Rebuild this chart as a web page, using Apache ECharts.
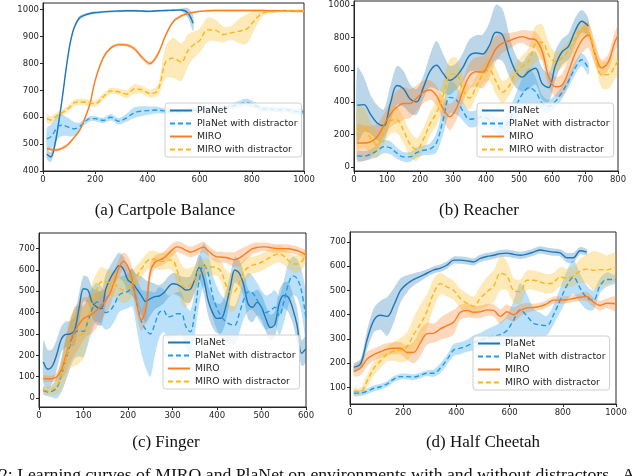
<!DOCTYPE html>
<html>
<head>
<meta charset="utf-8">
<script src="https://cdn.jsdelivr.net/npm/echarts@6/dist/echarts.min.js"></script>
<style>
  html, body { margin: 0; padding: 0; background: #fff; }
  #chart { width: 640px; height: 476px; }
</style>
</head>
<body>
<div id="chart"></div>
<script>
(function () {
  'use strict';

  var NAMES = ['PlaNet', 'PlaNet with distractor', 'MIRO', 'MIRO with distractor'];
  var COLORS = ['#1f77b4', '#1f9bf0', '#fa7d22', '#fdb515'];
  var DASHED = [false, true, false, true];

  // (a) Cartpole Balance
  var xsA = [15, 30, 45, 60, 75, 90, 105, 120, 140, 160, 180, 200, 230, 260, 290, 320, 350, 380, 410, 440, 470, 500, 530, 555, 575,
    600, 630, 660, 690, 720, 750, 780, 810, 840, 870, 900, 930, 960, 1000];
  var planetA = [462, 452, 495, 580, 680, 790, 880, 935, 970, 980, 986, 989, 992, 994, 995, 996, 996, 995, 994, 996, 997, 998, 999, 988, 950,
    null, null, null, null, null, null, null, null, null, null, null, null, null, null];
  var planetASd = [18, 18, 18, 12, 10, 10, 10, 8, 8, 6, 5, 5, 4, 4, 4, 4, 4, 4, 4, 4, 4, 4, 6, 18, 30,
    null, null, null, null, null, null, null, null, null, null, null, null, null, null];
  var planetDistA = [520, 527, 548, 568, 570, 566, 560, 557, 565, 583, 595, 595, 588, 600, 585, 598, 617, 623, 625, 627, 622, 620, 620, 625, 625,
    628, 630, 632, 635, 640, 648, 655, 645, 632, 630, 628, 628, 622, 620];
  var planetDistASd = [40, 45, 45, 45, 40, 35, 32, 25, 15, 12, 10, 10, 10, 12, 12, 15, 20, 18, 15, 12, 10, 10, 10, 10, 10,
    10, 10, 10, 10, 10, 12, 15, 12, 10, 10, 10, 10, 10, 10];
  var miroA = [483, 480, 478, 480, 486, 494, 508, 526, 551, 595, 650, 737, 820, 858, 870, 869, 855, 822, 800, 835, 905, 957, 977, 986, 990,
    994, 996, 997, 997, 997, 997, 997, 997, 997, 996, 996, 996, 995, 995];
  var miroASd = [6, 6, 6, 6, 6, 6, 6, 6, 6, 6, 6, 6, 6, 6, 6, 6, 8, 8, 8, 8, 8, 6, 6, 5, 5,
    4, 4, 4, 4, 4, 4, 4, 4, 4, 4, 4, 4, 4, 4];
  var miroDistA = [595, 590, 600, 610, 618, 627, 640, 654, 657, 656, 653, 650, 675, 698, 695, 686, 705, 702, 688, 700, 805, 820, 805, 848, 868,
    885, 925, 924, 908, 914, 920, 928, 960, 987, 992, 994, 995, 996, 996];
  var miroDistASd = [15, 15, 12, 12, 12, 12, 12, 12, 12, 12, 12, 12, 12, 12, 12, 15, 18, 15, 15, 20, 60, 75, 70, 60, 50,
    45, 45, 40, 30, 25, 45, 55, 35, 12, 6, 5, 5, 5, 5];

  // (b) Reacher
  var xsB = [10, 30, 50, 70, 90, 110, 130, 150, 170, 190, 210, 230, 250, 270, 290, 310, 330, 350, 370, 390,
    410, 430, 450, 470, 490, 510, 530, 550, 570, 590, 610, 630, 650, 670, 690, 710, 730, 750, 770, 790, 800];
  var planetB = [381, 385, 325, 272, 255, 390, 503, 483, 420, 402, 490, 590, 628, 578, 535, 560, 615, 688, 704, 698,
    750, 832, 815, 690, 590, 555, 590, 610, 515, 490, 625, 710, 745, 840, 900, 870, null, null, null, null, null];
  var planetBSd = [235, 170, 120, 110, 100, 110, 120, 110, 90, 80, 70, 100, 150, 120, 90, 80, 90, 100, 110, 120,
    140, 170, 160, 130, 100, 90, 110, 100, 100, 90, 90, 80, 80, 80, 70, 50, null, null, null, null, null];
  var planetDistB = [68, 67, 78, 100, 125, 118, 85, 62, 62, 88, 103, 110, 150, 290, 430, 415, 345, 295, 300, 310,
    290, 260, 245, 285, 370, 450, 490, 465, 395, 375, 405, 460, 530, 610, 662, 610, null, null, null, null, null];
  var planetDistBSd = [30, 30, 30, 40, 40, 40, 35, 30, 30, 30, 30, 35, 60, 90, 100, 90, 60, 50, 50, 50,
    50, 50, 60, 70, 80, 100, 120, 90, 50, 40, 40, 40, 40, 40, 40, 40, null, null, null, null, null];
  var miroB = [148, 148, 155, 185, 255, 325, 370, 392, 392, 425, 462, 475, 440, 360, 310, 360, 470, 562, 588, 586,
    650, 730, 765, 778, 795, 805, 792, 785, 715, 555, 495, 505, 590, 700, 780, 815, 700, 612, 645, 770, 813];
  var miroBSd = [115, 110, 100, 80, 70, 80, 100, 100, 90, 80, 70, 60, 60, 70, 80, 70, 70, 80, 90, 100,
    100, 80, 60, 50, 40, 40, 50, 50, 60, 60, 60, 70, 80, 80, 80, 80, 70, 50, 50, 60, 60];
  var miroDistB = [237, 245, 180, 135, 215, 285, 292, 225, 140, 108, 170, 265, 335, 440, 567, 575, 475, 425, 495, 570,
    600, 530, 462, 500, 580, 620, 655, 760, 770, 690, 650, 672, 720, 790, 855, 840, 700, 570, 570, 620, 658];
  var miroDistBSd = [130, 120, 100, 80, 80, 80, 80, 80, 80, 70, 70, 70, 80, 90, 100, 100, 90, 70, 60, 60,
    70, 80, 70, 60, 60, 70, 80, 110, 110, 80, 60, 60, 60, 60, 50, 50, 60, 80, 90, 80, 80];

  // (c) Finger
  var xsC = [10, 20, 30, 40, 50, 60, 70, 80, 90, 100, 110, 120, 130, 140, 150, 160, 170, 180, 190, 200,
    210, 220, 230, 240, 250, 260, 270, 280, 290, 300, 310, 320, 330, 340, 350, 360, 370, 380, 390, 400,
    410, 420, 430, 440, 450, 460, 470, 480, 490, 500, 510, 520, 530, 540, 550, 560, 570, 580, 590, 600];
  var planetC = [169, 135, 150, 205, 275, 298, 300, 318, 420, 512, 505, 445, 426, 419, 510, 560, 595, 620, 603, 552,
    538, 510, 480, 452, 465, 475, 478, 492, 518, 535, 532, 520, 506, 510, 555, 612, 560, 458, 400, 373,
    375, 430, 520, 600, 585, 530, 440, 425, 448, 425, 370, 330, 345, 445, 481, 473, 420, 340, 210, 231];
  var planetCSd = [100, 90, 80, 70, 60, 60, 60, 70, 70, 60, 60, 70, 80, 80, 70, 60, 60, 60, 60, 60,
    60, 70, 90, 100, 80, 60, 50, 50, 50, 50, 50, 50, 60, 60, 60, 60, 70, 70, 70, 70,
    70, 70, 60, 60, 60, 60, 70, 70, 60, 60, 60, 60, 60, 60, 60, 70, 70, 80, 60, 60];
  var planetDistC = [36, 28, 32, 48, 105, 180, 250, 305, 315, 312, 360, 420, 450, 432, 400, 410, 442, 482, 494, 500,
    518, 440, 360, 320, 300, 345, 400, 410, 380, 385, 395, 395, 335, 310, 400, 550, 625, 585, 480, 420,
    380, 358, 345, 341, 395, 460, 497, 492, 460, 425, 400, 410, 425, 385, 450, 530, 572, 560, 500, 372];
  var planetDistCSd = [20, 20, 30, 50, 80, 100, 110, 120, 120, 120, 110, 100, 90, 90, 80, 80, 80, 80, 80, 80,
    90, 120, 150, 180, 200, 150, 120, 100, 100, 100, 100, 100, 100, 100, 100, 110, 100, 100, 100, 100,
    100, 100, 90, 90, 90, 90, 90, 80, 80, 80, 80, 80, 80, 90, 100, 100, 90, 90, 100, 110];
  var miroC = [91, 90, 91, 100, 130, 195, 265, 312, 345, 372, 384, 395, 412, 432, 458, 492, 550, 612, 640, 615,
    550, 440, 365, 415, 590, 635, 646, 655, 675, 695, 708, 703, 692, 684, 690, 700, 707, 690, 672, 661,
    660, 658, 653, 648, 656, 670, 686, 700, 705, 708, 708, 705, 701, 700, 700, 699, 696, 691, 682, 669];
  var miroCSd = [15, 15, 15, 20, 40, 80, 100, 110, 110, 100, 90, 90, 80, 70, 60, 60, 50, 40, 40, 50,
    60, 60, 50, 60, 40, 30, 30, 30, 30, 30, 25, 25, 25, 25, 25, 25, 25, 25, 25, 25,
    25, 25, 30, 35, 40, 35, 30, 25, 25, 20, 20, 20, 20, 20, 20, 20, 20, 20, 20, 20];
  var miroDistC = [39, 33, 38, 55, 105, 180, 258, 280, 292, 305, 370, 450, 508, 544, 545, 540, 533, 515, 505, 512,
    538, 572, 605, 634, 650, 650, 640, 640, 646, 646, 600, 535, 515, 530, 560, 600, 614, 614, 614, 610,
    590, 530, 495, 500, 540, 590, 612, 622, 628, 636, 648, 660, 670, 676, 665, 645, 630, 628, 640, 669];
  var miroDistCSd = [20, 20, 25, 40, 70, 100, 120, 130, 130, 120, 100, 90, 80, 70, 60, 60, 60, 60, 60, 60,
    60, 50, 40, 40, 40, 40, 40, 40, 40, 50, 70, 90, 90, 80, 60, 50, 40, 40, 40, 40,
    50, 70, 90, 90, 80, 60, 50, 40, 40, 40, 40, 40, 40, 40, 40, 40, 40, 40, 40, 30];

  // (d) Half Cheetah
  var xsD = [15, 40, 65, 90, 115, 140, 165, 190, 215, 240, 265, 290, 315, 340, 365, 390, 415, 440, 465, 490,
    515, 540, 565, 590, 615, 640, 665, 690, 715, 740, 765, 790, 815, 840, 865, 890, 915, 940, 965, 990, 1000];
  var planetD = [184, 198, 300, 378, 398, 393, 440, 500, 528, 546, 558, 572, 585, 592, 605, 625, 625, 622, 618, 632,
    640, 645, 652, 654, 649, 645, 650, 658, 667, 662, 658, 655, 635, 635, 664, 658, null, null, null, null, null];
  var planetDSd = [15, 20, 40, 50, 60, 80, 70, 50, 35, 25, 20, 15, 15, 15, 15, 15, 15, 15, 15, 15,
    15, 15, 15, 15, 15, 15, 15, 15, 15, 15, 15, 15, 20, 20, 15, 12, null, null, null, null, null];
  var planetDistD = [77, 77, 85, 97, 103, 115, 135, 145, 145, 143, 150, 159, 159, 180, 215, 255, 262, 272, 285, 295,
    305, 312, 318, 335, 378, 420, 395, 365, 358, 355, 400, 460, 520, 555, 510, 470, 460, 520, 545, 545, 545];
  var planetDistDSd = [12, 12, 12, 12, 12, 12, 12, 12, 12, 12, 12, 12, 15, 20, 20, 25, 25, 25, 30, 30,
    35, 40, 50, 60, 80, 110, 90, 60, 50, 40, 40, 50, 60, 70, 60, 50, 40, 30, 30, 20, 20];
  var miroD = [166, 180, 218, 236, 248, 258, 262, 262, 244, 245, 285, 322, 324, 342, 355, 370, 410, 418, 410, 412,
    420, 418, 393, 412, 400, 418, 428, 430, 435, 445, 460, 460, 462, 467, 472, 475, 452, 438, 447, 446, 444];
  var miroDSd = [20, 30, 30, 25, 25, 25, 25, 25, 30, 45, 55, 45, 40, 45, 50, 50, 30, 30, 25, 25,
    25, 25, 30, 30, 30, 25, 20, 15, 15, 15, 15, 15, 15, 15, 15, 20, 20, 20, 20, 30, 30];
  var miroDistD = [84, 84, 128, 180, 210, 238, 250, 254, 270, 320, 362, 415, 490, 528, 515, 500, 467, 447, 435, 468,
    495, 517, 570, 560, 500, 495, 542, 542, 535, 528, 532, 556, 550, 560, 580, 588, 583, 586, 584, 594, 597];
  var miroDistDSd = [15, 15, 25, 30, 30, 30, 40, 50, 60, 70, 80, 70, 60, 45, 40, 40, 40, 40, 40, 50,
    60, 65, 70, 60, 50, 50, 40, 40, 40, 40, 40, 40, 40, 40, 50, 60, 80, 70, 60, 60, 50];

  var panels = [
    { caption: '(a) Cartpole Balance', capX: 165, capY: 211,
      grid: { left: 43, top: 3, width: 261, height: 168 },
      x: [0, 1000, 200], y: [400, 1025], yTicks: [400, 500, 600, 700, 800, 900, 1000],
      legend: [165, 103], xs: xsA,
      means: [planetA, planetDistA, miroA, miroDistA], sds: [planetASd, planetDistASd, miroASd, miroDistASd] },
    { caption: '(b) Reacher', capX: 479, capY: 211,
      grid: { left: 354, top: 1, width: 264, height: 170 },
      x: [0, 800, 100], y: [-25, 1025], yTicks: [0, 200, 400, 600, 800, 1000],
      legend: [477, 103], xs: xsB,
      means: [planetB, planetDistB, miroB, miroDistB], sds: [planetBSd, planetDistBSd, miroBSd, miroDistBSd] },
    { caption: '(c) Finger', capX: 166, capY: 443,
      grid: { left: 39, top: 233, width: 267, height: 174 },
      x: [0, 600, 100], y: [-42, 773], yTicks: [0, 100, 200, 300, 400, 500, 600, 700],
      legend: [163, 335], xs: xsC,
      means: [planetC, planetDistC, miroC, miroDistC], sds: [planetCSd, planetDistCSd, miroCSd, miroDistCSd] },
    { caption: '(d) Half Cheetah', capX: 483, capY: 443,
      grid: { left: 350, top: 232, width: 266, height: 172 },
      x: [0, 1000, 200], y: [32, 741], yTicks: [100, 200, 300, 400, 500, 600, 700],
      legend: [473, 336], xs: xsD,
      means: [planetD, planetDistD, miroD, miroDistD], sds: [planetDSd, planetDistDSd, miroDSd, miroDistDSd] }
  ];

  var AXIS_COLOR = '#262626';
  var labelStyle = {
    fontSize: 8.5, color: AXIS_COLOR, fontFamily: 'DejaVu Sans',
    formatter: function (v) { return String(v); }
  };

  function bandRenderer(pts, color) {
    return function (params, api) {
      if (params.dataIndex !== 0) {
        return null;
      }
      var upper = [], lower = [];
      pts.forEach(function (p) {
        upper.push(api.coord([p[0], p[2]]));
        lower.unshift(api.coord([p[0], p[1]]));
      });
      return {
        type: 'polygon',
        shape: { points: upper.concat(lower), smooth: 0.3 },
        style: { fill: color, opacity: 0.3 }
      };
    };
  }

  var grids = [], xAxes = [], yAxes = [], series = [], legends = [], graphics = [];

  panels.forEach(function (p, idx) {
    grids.push({
      left: p.grid.left, top: p.grid.top, width: p.grid.width, height: p.grid.height,
      show: true, borderColor: AXIS_COLOR, borderWidth: 1, backgroundColor: 'transparent'
    });
    xAxes.push({
      gridIndex: idx, type: 'value', min: p.x[0], max: p.x[1], interval: p.x[2],
      axisLine: { show: true, onZero: false, lineStyle: { color: AXIS_COLOR, width: 1 } },
      axisTick: { show: true, length: 3, lineStyle: { color: AXIS_COLOR } },
      axisLabel: Object.assign({ margin: 4 }, labelStyle),
      splitLine: { show: false }
    });
    yAxes.push({
      gridIndex: idx, type: 'value', min: p.y[0], max: p.y[1],
      axisLine: { show: true, onZero: false, lineStyle: { color: AXIS_COLOR, width: 1 } },
      axisTick: { show: true, length: 3, lineStyle: { color: AXIS_COLOR }, customValues: p.yTicks },
      axisLabel: Object.assign({ margin: 4, customValues: p.yTicks }, labelStyle),
      splitLine: { show: false }
    });

    // shaded bands first, lines on top
    p.means.forEach(function (mean, k) {
      var pts = [];
      p.xs.forEach(function (x, i) {
        if (mean[i] != null) {
          pts.push([x, mean[i] - p.sds[k][i], mean[i] + p.sds[k][i]]);
        }
      });
      series.push({
        type: 'custom', name: NAMES[k] + ' band', xAxisIndex: idx, yAxisIndex: idx,
        silent: true, clip: true, z: 1,
        data: pts,
        renderItem: bandRenderer(pts, COLORS[k])
      });
    });
    p.means.forEach(function (mean, k) {
      var data = [];
      p.xs.forEach(function (x, i) {
        if (mean[i] != null) {
          data.push([x, mean[i]]);
        }
      });
      series.push({
        type: 'line', name: NAMES[k], xAxisIndex: idx, yAxisIndex: idx,
        data: data, smooth: 0.35, symbol: 'none', silent: true, z: 2 + k,
        lineStyle: { color: COLORS[k], width: 1.4, type: DASHED[k] ? [5, 3] : 'solid' },
        itemStyle: { color: COLORS[k] }
      });
    });

    legends.push({
      data: NAMES, orient: 'vertical', left: p.legend[0], top: p.legend[1],
      itemWidth: 22, itemHeight: 11, itemGap: 4, padding: [3, 4, 3, 4],
      backgroundColor: 'rgba(255,255,255,0.8)', borderColor: '#cfcfcf', borderWidth: 1, borderRadius: 3,
      selectedMode: false,
      itemStyle: { opacity: 0 },
      textStyle: { fontSize: 9.3, color: AXIS_COLOR, fontFamily: 'DejaVu Sans' }
    });

    graphics.push({
      type: 'text', x: p.capX, y: p.capY,
      style: {
        text: p.caption, x: 0, y: 0, align: 'center', verticalAlign: 'middle',
        font: '17px "Liberation Serif"', fill: '#111'
      }
    });
  });

  graphics.push({
    type: 'text', x: -1, y: 466,
    style: {
      text: '2: Learning curves of MIRO and PlaNet on environments with and without distractors.  A',
      verticalAlign: 'top', font: '17.7px "Liberation Serif"', fill: '#111'
    }
  });

  var myChart = echarts.init(document.getElementById('chart'), null, { renderer: 'canvas' });
  myChart.setOption({
    animation: false,
    backgroundColor: '#fff',
    grid: grids,
    xAxis: xAxes,
    yAxis: yAxes,
    legend: legends,
    series: series,
    graphic: graphics
  });
})();
</script>
</body>
</html>
